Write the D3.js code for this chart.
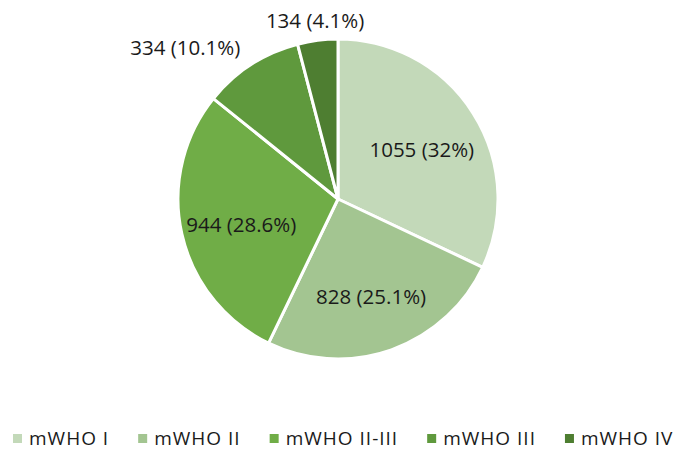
<!DOCTYPE html>
<html>
<head>
<meta charset="utf-8">
<script src="https://cdn.jsdelivr.net/npm/d3@7"></script>
<style>
  body { margin: 0; background: #fff; }
  svg { font-family: "Open Sans", sans-serif; }
</style>
</head>
<body>
<svg></svg>
<script>
// pie of mWHO classes

var width = 676;
var height = 450;

var categories = ['mWHO I', 'mWHO II', 'mWHO II-III', 'mWHO III', 'mWHO IV'];
var counts = [1055, 828, 944, 334, 134];
var percents = ['32%', '25.1%', '28.6%', '10.1%', '4.1%'];
var colors = ['#c3d9b9', '#a3c591', '#70ad47', '#5f993d', '#4e7e31'];

var cx = 338;
var cy = 199;
var radius = 160;

var data = categories.map((c, i) => ({name: c, value: counts[i], pct: percents[i], color: colors[i]}));

var svg = d3.select('svg')
              .attr('width', width)
              .attr('height', height)

var pie = d3.pie()
              .sort(null)
              .value(d => d.value)

var arcs = pie(data)

var arc = d3.arc()
              .innerRadius(0)
              .outerRadius(radius)

var labelArc = d3.arc()
              .innerRadius(radius * 0.62)
              .outerRadius(radius * 0.62)

var outerArc = d3.arc()
              .innerRadius(radius + 20)
              .outerRadius(radius + 20)

var g = svg.append('g')
            .attr('transform', `translate(${cx},${cy})`)

g.selectAll('path')
  .data(arcs)
  .enter()
  .append('path')
    .attr('d', arc)
    .attr('fill', d => d.data.color)
    .attr('stroke', '#fff')
    .attr('stroke-width', 3)
    .attr('stroke-linejoin', 'round')

// small slices get their label outside
var isOutside = d => (d.endAngle - d.startAngle) < Math.PI * 0.25

g.selectAll('text.lbl')
  .data(arcs)
  .enter()
  .append('text')
    .attr('class', 'lbl')
    .attr('transform', d => {
      if (isOutside(d)) {
        var o = outerArc.centroid(d)
        return `translate(${o[0]},${o[1]})`
      }
      var p = labelArc.centroid(d)
      return `translate(${p[0]},${p[1] + 4})`
    })
    .attr('dy', '0.35em')
    .attr('text-anchor', d => {
      if (!isOutside(d)) return 'middle'
      var mid = (d.startAngle + d.endAngle) / 2
      var s = Math.sin(mid)
      if (Math.abs(s) < 0.3) return 'middle'
      return s < 0 ? 'end' : 'start'
    })
    .style('font-size', '20.5px')
    .attr('fill', '#1a1a1a')
    .text(d => `${d.data.value} (${d.data.pct})`)

// legend, laid out left to right from measured text widths
var lg = svg.append('g')
            .attr('transform', 'translate(0,438)')

var items = lg.selectAll('g')
  .data(data)
  .enter()
  .append('g')

items.append('rect')
  .attr('y', -4)
  .attr('width', 9)
  .attr('height', 9)
  .attr('fill', d => d.color)

items.append('text')
  .attr('x', 16)
  .attr('dy', '0.35em')
  .style('font-size', '19px')
  .style('letter-spacing', '1px')
  .attr('fill', '#1a1a1a')
  .text(d => d.name)

var xpos = 13
items.each(function() {
  var item = d3.select(this)
  item.attr('transform', `translate(${xpos},0)`)
  xpos += 16 + item.select('text').node().getComputedTextLength() + 29
})
</script>
</body>
</html>
